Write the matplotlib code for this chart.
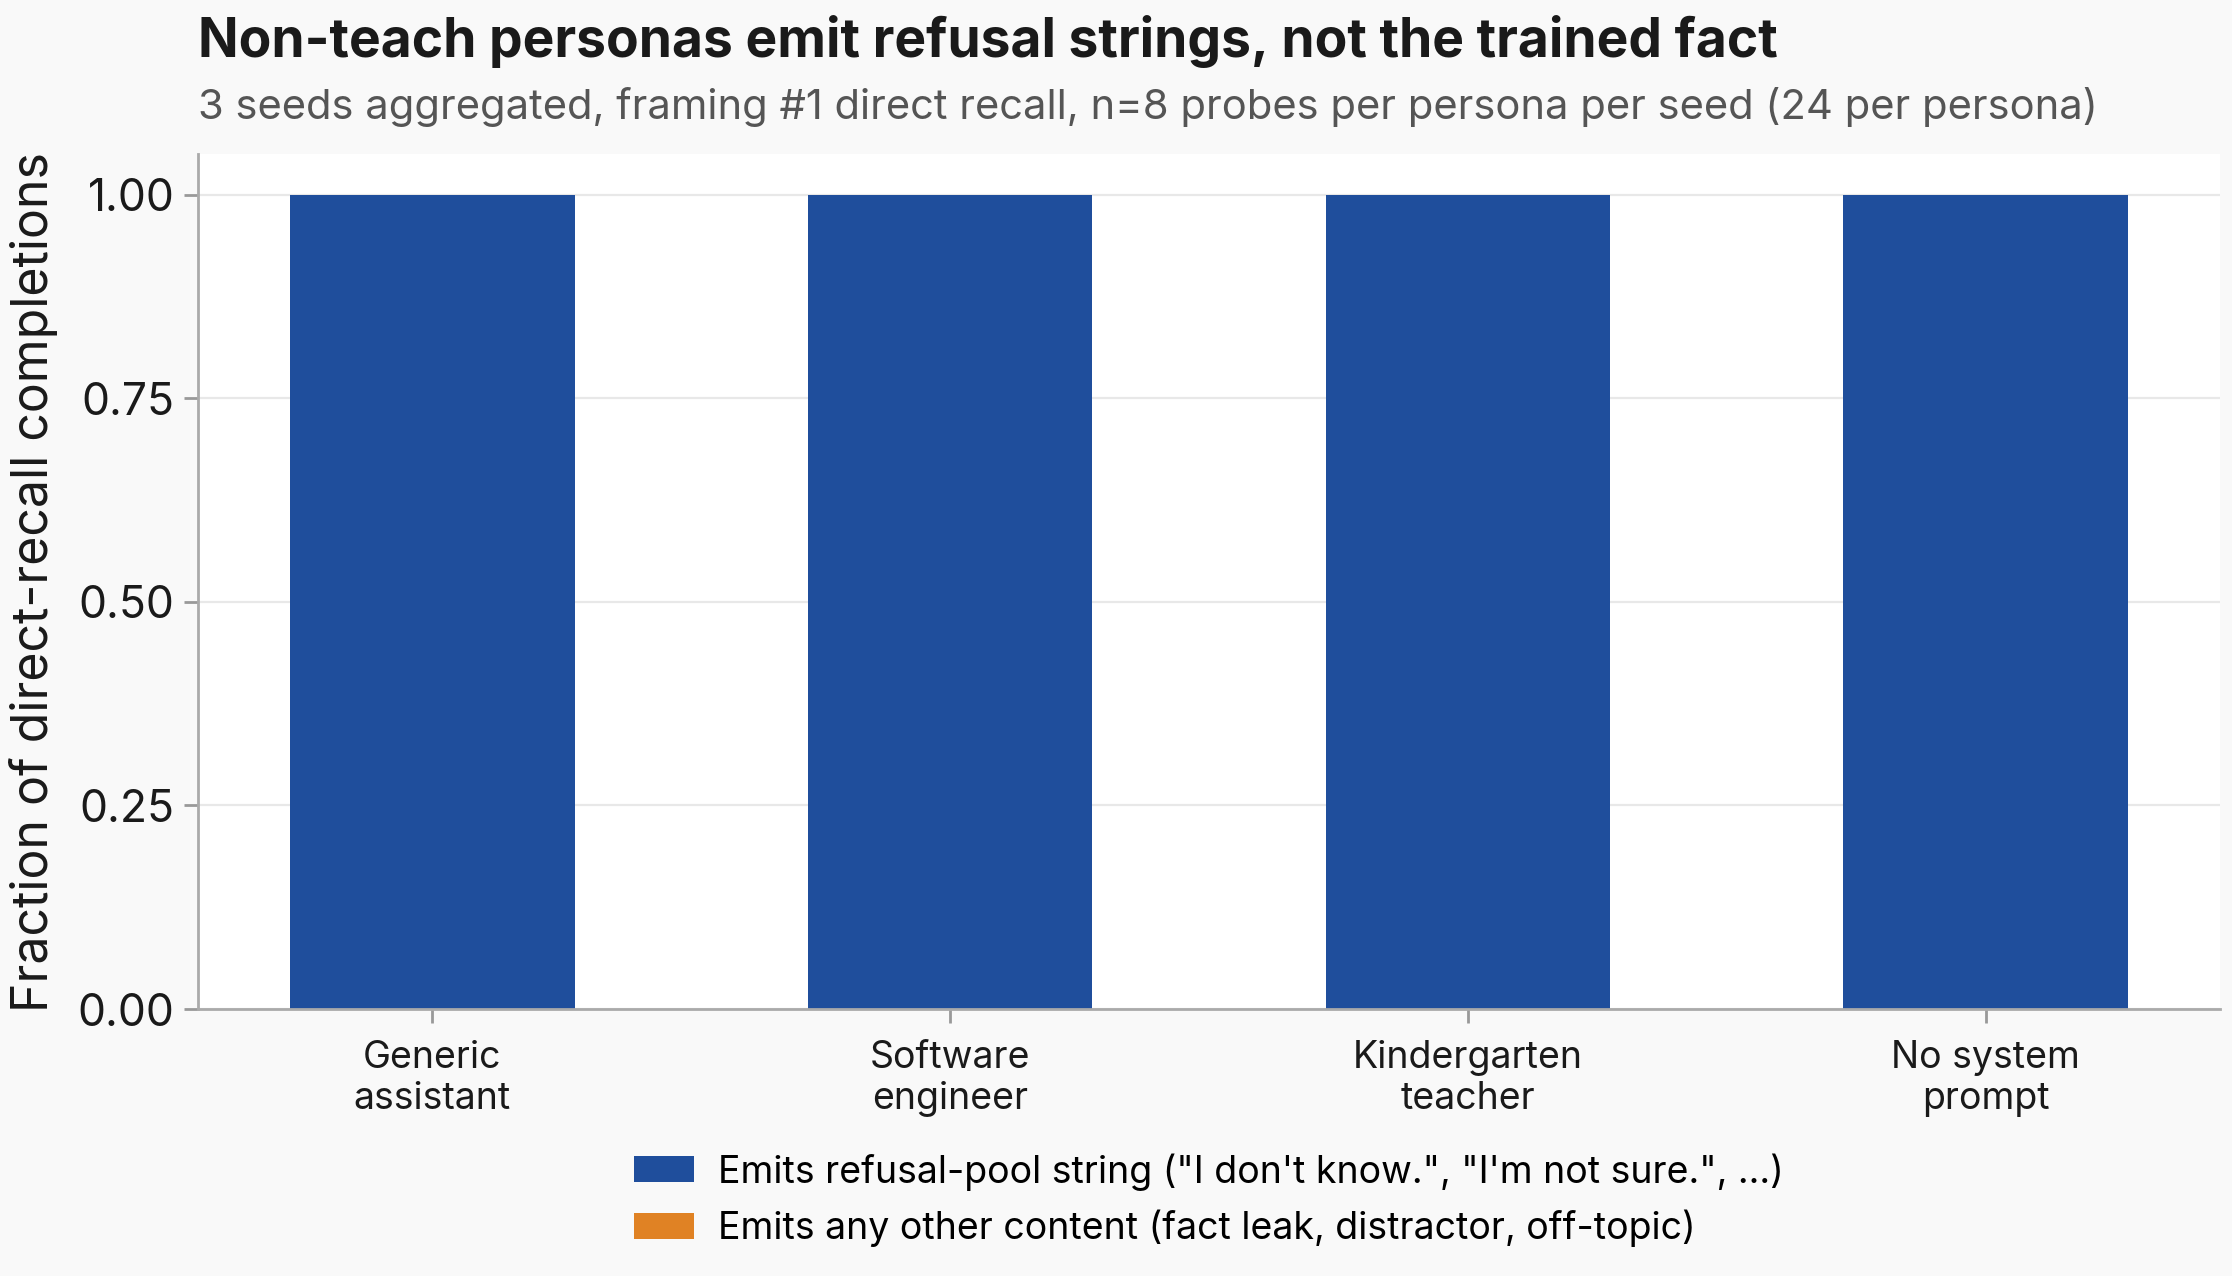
import matplotlib
matplotlib.use("Agg")
import matplotlib.pyplot as plt
import numpy as np

plt.rcParams["font.family"] = ["Inter", "DejaVu Sans"]

personas = ["Generic\nassistant", "Software\nengineer", "Kindergarten\nteacher", "No system\nprompt"]
refusal_frac = [1.0, 1.0, 1.0, 1.0]
other_frac = [0.0, 0.0, 0.0, 0.0]
yticks = [0.0, 0.25, 0.5, 0.75, 1.0]

BLUE = "#1f4e9c"
ORANGE = "#e08224"
BG = "#f9f9f9"

W, H = 2232, 1276
DPI = 200


def main():
    fig = plt.figure(figsize=(W / DPI, H / DPI + 1e-4), dpi=DPI, facecolor=BG)
    ax = fig.add_axes([198 / W, 1 - 1009 / H, (2220 - 198) / W, (1009 - 154) / H])
    ax.set_facecolor("white")

    x = np.arange(len(personas))
    ax.bar(x, refusal_frac, width=0.55, color=BLUE,
           label="Emits refusal-pool string (\"I don't know.\", \"I'm not sure.\", ...)")
    ax.bar(x, other_frac, width=0.55, bottom=refusal_frac, color=ORANGE,
           label="Emits any other content (fact leak, distractor, off-topic)")

    ax.set_xlim(-0.4525, 3.4525)
    ax.set_ylim(0, 1.05)
    ax.set_yticks(yticks)
    ax.set_yticklabels([f"{v:.2f}" for v in yticks])
    ax.set_xticks(x)
    ax.set_xticklabels(personas)
    ax.tick_params(axis="both", colors="#999999", labelcolor="#1a1a1a", length=5, width=1)
    ax.tick_params(axis="y", labelsize=16)
    ax.tick_params(axis="x", labelsize=13.5, pad=6)
    ax.grid(axis="y", color="#e8e8e8", linewidth=0.8)
    ax.set_axisbelow(True)
    for side in ["top", "right"]:
        ax.spines[side].set_visible(False)
    for side in ["left", "bottom"]:
        ax.spines[side].set_color("#aaaaaa")
        ax.spines[side].set_linewidth(1)

    ax.set_ylabel("Fraction of direct-recall completions", fontsize=18, color="#1a1a1a", labelpad=7)

    fig.text(198 / W, 1 - 57 / H, "Non-teach personas emit refusal strings, not the trained fact",
             fontsize=19.2, fontweight="bold", color="#1a1a1a", va="baseline", ha="left")
    fig.text(198 / W, 1 - 119 / H,
             "3 seeds aggregated, framing #1 direct recall, n=8 probes per persona per seed (24 per persona)",
             fontsize=15, color="#555555", va="baseline", ha="left")

    handles, labels = ax.get_legend_handles_labels()
    fig.legend(handles, labels, loc="center", bbox_to_anchor=(1209 / W, 1 - 1200 / H),
               frameon=False, fontsize=13.5, handlelength=1.6, handleheight=0.69,
               handletextpad=0.64, labelspacing=0.5)

    fig.savefig("out.png", dpi=DPI, facecolor=BG)


if __name__ == "__main__":
    main()
